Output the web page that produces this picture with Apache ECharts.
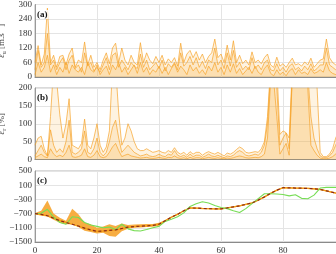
<!DOCTYPE html>
<html><head><meta charset="utf-8">
<script src="https://cdn.jsdelivr.net/npm/echarts@6/dist/echarts.min.js"></script>
<style>html,body{margin:0;padding:0;background:#fff}#c{width:336px;height:254px}</style>
</head><body><div id="c"></div>
<script>
// ---- data ----
const xA = [0,1,2,3,4,5,6,7,8,9,10,11,12,13,14,15,16,17,18,19,20,21,22,23,24,25,26,27,28,29,30,31,32,33,34,35,36,37,38,39,40,41,42,43,44,45,46,47,48,49,50,51,52,53,54,55,56,57,58,59,60,61,62,63,64,65,66,67,68,69,70,71,72,73,74,75,76,77,78,79,80,81,82,83,84,85,86,87,88,89,90,91,92,93,94,95,96,97,98];
const a1 = [60,130,50,95,285,60,90,40,85,90, 50,95,120,40,70,60,145,50,90,40, 60,30,70,100,55,120,140,60,120,70, 50,90,60,50,142,60,100,70,55,85, 60,90,50,75,60,80,45,140,60,95, 110,80,105,70,95,60,85,100,157,80, 95,60,132,70,150,60,90,55,70,50, 104,60,70,55,80,95,50,40,82,45, 55,40,60,78,50,55,45,62,50,78, 40,55,70,75,157,80,60,50,40];
const a2 = [30,110,40,60,180,50,70,30,60,80, 30,70,90,35,50,20,100,45,60,25, 40,20,50,80,30,90,100,40,70,50, 30,60,45,35,95,40,70,30,45,60, 35,70,25,55,40,60,30,100,45,60, 85,50,80,40,65,35,70,60,120,50, 70,35,100,45,110,40,60,30,45,30, 80,35,50,30,60,70,30,25,55,25, 40,20,45,55,30,40,25,45,30,55, 25,35,50,50,120,50,40,30,25];
const a3 = [10,60,20,40,90,20,50,10,40,20, 60,15,50,30,20,40,10,60,30,20, 50,10,30,45,10,50,30,60,20,40, 10,30,50,15,60,20,40,10,30,20, 45,15,40,10,35,55,20,45,30,10, 50,25,40,15,30,10,45,25,60,20, 40,10,50,20,55,15,35,10,25,40, 15,45,20,10,35,50,15,5,30,10, 20,5,25,35,10,30,15,20,10,35, 15,20,30,20,60,25,15,10,5];
const b1 = [40,60,65,30,10,120,260,220,125,60, 100,170,40,35,30,45,113,40,30,60, 100,40,20,35,80,260,260,130,40,60, 100,80,50,30,25,25,30,25,20,22, 25,20,18,25,20,33,20,15,20,12, 22,15,20,20,12,18,22,18,15,20, 15,10,18,15,20,28,35,30,20,18, 20,22,20,30,50,120,260,260,260,70, 80,75,60,260,260,260,260,260,260,260, 260,200,20,8,8,15,30,60,80];
const b2 = [10,25,40,20,10,83,40,20,30,20, 50,110,20,15,20,30,80,20,15,30, 60,20,10,20,50,90,110,60,20,30, 40,30,20,15,10,12,15,10,8,10, 15,10,8,15,12,25,12,8,12,6, 15,8,12,12,6,10,15,10,8,12, 8,5,10,8,12,20,25,20,12,10, 12,15,12,20,40,100,240,240,200,40, 60,74,30,240,240,240,240,240,240,120, 60,30,10,5,5,10,20,40,60];
const b3 = [5,10,15,8,5,30,15,8,12,8, 20,40,8,6,8,12,30,8,6,12, 25,8,5,8,20,35,45,25,8,12, 15,10,8,6,4,5,6,4,3,4, 6,4,3,6,5,10,5,3,5,2, 6,3,5,5,2,4,6,4,3,5, 3,2,4,3,5,8,10,8,5,4, 5,6,5,8,15,60,220,220,120,15, 30,45,12,230,240,240,240,240,200,40, 25,12,4,2,2,4,8,15,25];
const xC = [0,2,4,6,8,10,12,14,16,18,20,22,24,26,28,30,32,34,36,38,40,42,44,46,48,50,52,54,56,58,60,62,64,66,68,70,72,74,76,78,80,82,84,86,88,90,92,94,96,98];
const zEst = [-700,-720,-760,-830,-900,-950,-1000,-1050,-1110,-1160, -1200,-1190,-1170,-1160,-1120,-1080,-1065,-1055,-1045,-1030, -1000,-900,-800,-720,-620,-540,-545,-555,-560,-565, -565,-540,-510,-480,-440,-400,-320,-230,-130,-40, 30,25,20,15,10,0,-20,-60,-100,-140];
const zTrue = [-700,-690,-580,-800,-950,-1000,-790,-810,-950,-1020, -1060,-1100,-1080,-1150,-1000,-1130,-1180,-1190,-1150,-1100, -1060,-920,-860,-790,-680,-500,-420,-365,-400,-470, -530,-560,-620,-670,-560,-420,-280,-140,-140,-150, -160,-200,-170,-270,-280,-180,20,40,40,40];
const zUp = [-680,-620,-330,-700,-820,-900,-560,-720,-950,-1000, -1100,-1060,-1000,-1050,-980,-1020,-1010,-1000,-990,-990, -960,-880,-790,-700,-610,-530,-530,-540,-545,-550, -550,-525,-495,-465,-425,-385,-305,-215,-115,-25, 45,40,35,30,25,15,-5,-45,-85,-125];
const zLo = [-720,-760,-780,-870,-960,-1000,-1000,-1080,-1180,-1220, -1260,-1240,-1330,-1350,-1200,-1130,-1100,-1090,-1080,-1070, -1040,-930,-820,-740,-640,-560,-565,-575,-580,-585, -585,-560,-530,-500,-460,-420,-340,-250,-150,-60, 10,5,0,-5,-10,-20,-40,-80,-120,-160];
const xTicks = [0,20,40,60,80,100];
const yTicksA = [0,60,120,180,240,300];
const yTicksB = [0,50,100,150,200];
const yTicksC = [-1500,-1100,-700,-300,100,500];

// ---- chart ----
const FONT = 'Liberation Serif';
const ORANGE = '#f7a42a';
const pair = (xs, ys) => xs.map((x, i) => [x, ys[i]]);
const fmt = v => (v < 0 ? '\u2212' + Math.abs(v) : '' + v);
const grids = [
  {left: 35, right: -9, top: 4.5, height: 72.5},
  {left: 35, right: -9, top: 88, height: 71.5},
  {left: 35, right: -9, top: 171, height: 71}
].map(g => Object.assign(g, {show: true, borderColor: '#b5b5b5', borderWidth: 1, containLabel: false, outerBoundsMode: 'none'}));

const xAxes = [0, 1, 2].map(i => ({
  type: 'value', gridIndex: i, min: xTicks[0], max: xTicks[xTicks.length - 1], interval: xTicks[1] - xTicks[0],
  axisLine: {show: true, onZero: false, lineStyle: {color: '#8a8a8a', width: 1}},
  axisTick: {show: false},
  axisLabel: {show: i === 2, fontFamily: FONT, fontSize: 9, color: '#333', margin: 4,
    formatter: v => (v >= 100 ? '' : fmt(v))},
  splitLine: {show: true, lineStyle: {color: '#e4e4e4', width: 1}}
}));
const rich = {
  s: {fontFamily: FONT, fontSize: 6, color: '#444', verticalAlign: 'bottom', lineHeight: 12},
  p: {fontFamily: FONT, fontSize: 6, color: '#444', verticalAlign: 'top', lineHeight: 12},
  e: {fontFamily: FONT, fontSize: 9, fontStyle: 'italic', color: '#444', lineHeight: 12}
};
function yAx(i, ticks, name) {
  return {
    type: 'value', gridIndex: i, min: ticks[0], max: ticks[ticks.length - 1], interval: ticks[1] - ticks[0],
    name: name, nameLocation: 'middle', nameGap: 22, nameRotate: 90,
    nameTextStyle: {fontFamily: FONT, fontSize: 9, color: '#444', lineHeight: 12, rich: rich},
    axisLine: {show: true, onZero: false, lineStyle: {color: '#9a9a9a', width: 1}},
    axisTick: {show: false},
    axisLabel: {fontFamily: FONT, fontSize: 9, color: '#333', margin: 3, formatter: fmt},
    splitLine: {show: true, lineStyle: {color: '#e4e4e4', width: 1}}
  };
}
const yAxes = [
  yAx(0, yTicksA, '{e|ε}{s|u} [m.s{p|−1}]'),
  yAx(1, yTicksB, '{e|ε}{s|r} [%]'),
  yAx(2, yTicksC, '{e|z}{s|b} [m]')
];
function areaSeries(i, ys) {
  return {
    type: 'line', xAxisIndex: i, yAxisIndex: i, data: pair(xA, ys), showSymbol: false, clip: true,
    lineStyle: {color: ORANGE, width: 0.7}, areaStyle: {color: 'rgba(251,176,60,0.22)'},
    silent: true, animation: false
  };
}
const bandData = xC.map((x, i) => [x, zLo[i], zUp[i]]);
const series = [
  areaSeries(0, a1), areaSeries(0, a2), areaSeries(0, a3),
  areaSeries(1, b1), areaSeries(1, b2), areaSeries(1, b3),
  {type: 'custom', xAxisIndex: 2, yAxisIndex: 2, data: bandData, animation: false, silent: true,
   encode: {x: 0, y: [1, 2]},
   renderItem: function (params, api) {
     if (params.dataIndex !== 0) return null;
     const up = bandData.map(d => api.coord([d[0], d[2]]));
     const lo = bandData.map(d => api.coord([d[0], d[1]])).reverse();
     return {type: 'polygon', shape: {points: up.concat(lo)},
       style: {fill: '#f7a938', opacity: 0.95}};
   }},
  {type: 'line', xAxisIndex: 2, yAxisIndex: 2, data: pair(xC, zEst), showSymbol: false,
   lineStyle: {color: '#f39c12', width: 1.3}, animation: false},
  {type: 'line', xAxisIndex: 2, yAxisIndex: 2, data: pair(xC, zTrue), showSymbol: false,
   lineStyle: {color: '#77dd55', width: 1.1}, animation: false},
  {type: 'line', xAxisIndex: 2, yAxisIndex: 2, data: pair(xC, zEst), showSymbol: false,
   lineStyle: {color: '#8b2a1a', width: 1.2, type: [3, 2.5]}, animation: false}
];
const lbl = (x, y, t) => ({type: 'text', left: x, top: y, z: 100,
  style: {text: t, font: 'bold 9px "Liberation Serif"', fill: '#111', backgroundColor: 'rgba(255,255,255,0.85)', padding: [0, 1]}});
const chart = echarts.init(document.getElementById('c'), null, {renderer: 'canvas'});
chart.setOption({
  animation: false,
  backgroundColor: '#fff',
  grid: grids, xAxis: xAxes, yAxis: yAxes, series: series,
  graphic: [lbl(36, 10, '(a)'), lbl(36, 93, '(b)'), lbl(36, 176, '(c)')]
});
</script></body></html>
